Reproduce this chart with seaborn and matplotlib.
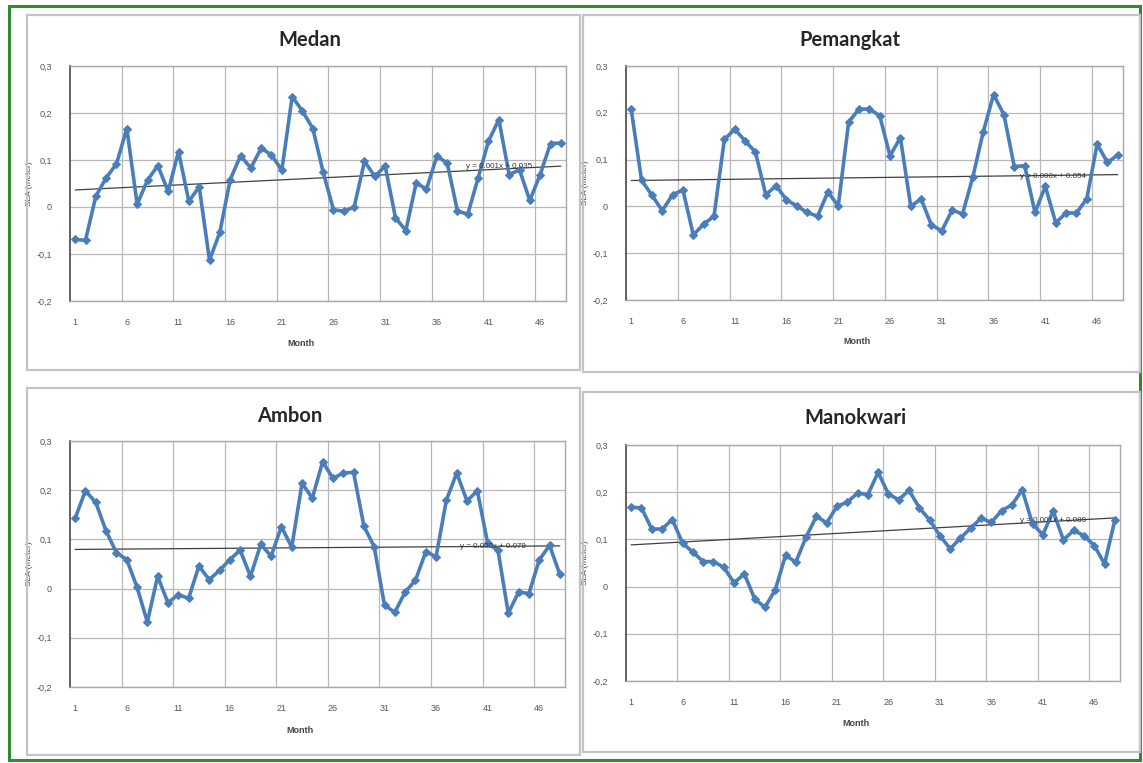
import numpy as np
import pandas as pd
import matplotlib
matplotlib.use("Agg")
import matplotlib.pyplot as plt
from matplotlib.patches import Rectangle
from matplotlib.ticker import FuncFormatter
import seaborn as sns

# data (SLA in meter, months 1..48)
months = list(range(1, 49))

medan = [-0.069, -0.071, 0.023, 0.062, 0.092, 0.167, 0.006, 0.057, 0.088, 0.033,
         0.118, 0.012, 0.043, -0.113, -0.054, 0.058, 0.109, 0.083, 0.125, 0.111,
         0.078, 0.235, 0.204, 0.167, 0.074, -0.006, -0.009, 0.000, 0.097, 0.065,
         0.087, -0.023, -0.050, 0.051, 0.038, 0.108, 0.094, -0.009, -0.015, 0.062,
         0.140, 0.186, 0.069, 0.079, 0.014, 0.069, 0.135, 0.136]

pemangkat = [0.208, 0.056, 0.024, -0.009, 0.025, 0.035, -0.061, -0.038, -0.021, 0.143,
             0.165, 0.140, 0.116, 0.025, 0.044, 0.014, 0.001, -0.013, -0.021, 0.031,
             0.001, 0.180, 0.208, 0.208, 0.194, 0.108, 0.147, 0.000, 0.016, -0.040,
             -0.052, -0.008, -0.016, 0.063, 0.159, 0.239, 0.196, 0.085, 0.087, -0.013,
             0.043, -0.035, -0.014, -0.014, 0.016, 0.133, 0.094, 0.110]

ambon = [0.143, 0.199, 0.175, 0.117, 0.073, 0.059, 0.003, -0.068, 0.025, -0.029,
         -0.012, -0.020, 0.046, 0.018, 0.037, 0.059, 0.078, 0.025, 0.090, 0.066,
         0.126, 0.084, 0.214, 0.184, 0.258, 0.224, 0.235, 0.236, 0.127, 0.085,
         -0.034, -0.048, -0.007, 0.017, 0.075, 0.065, 0.180, 0.235, 0.178, 0.199,
         0.092, 0.078, -0.050, -0.007, -0.010, 0.058, 0.088, 0.029]

manokwari = [0.168, 0.167, 0.122, 0.122, 0.142, 0.092, 0.073, 0.053, 0.053, 0.041,
             0.008, 0.027, -0.026, -0.044, -0.007, 0.066, 0.052, 0.105, 0.149, 0.135,
             0.170, 0.179, 0.198, 0.195, 0.242, 0.196, 0.184, 0.204, 0.167, 0.141,
             0.108, 0.080, 0.103, 0.124, 0.145, 0.136, 0.161, 0.173, 0.205, 0.133,
             0.110, 0.160, 0.099, 0.119, 0.108, 0.087, 0.048, 0.141]

stations = ["Medan", "Pemangkat", "Ambon", "Manokwari"]
series = [medan, pemangkat, ambon, manokwari]
trend_labels = ["y = 0.001x + 0.035", "y = 0.000x + 0.054",
                "y = 0.000x + 0.079", "y = 0.001x + 0.089"]

W, H = 1143, 763
fig = plt.figure(figsize=(W / 100, H / 100), dpi=100)
sns.set_style("white")
plt.rcParams['font.family'] = ['Liberation Sans', 'DejaVu Sans']


def box(px0, py0, px1, py1):
    # pixel box -> figure rect
    return [px0 / W, 1 - py1 / H, (px1 - px0) / W, (py1 - py0) / H]


# green outer frame
fig.patches.append(Rectangle((9 / W, 1 - 760 / H), 1131 / W, 754 / H,
                             transform=fig.transFigure, fill=False,
                             edgecolor="#2e8b2e", linewidth=2.2))

# panel frames, axes rectangles, title positions, trend-label positions
panels = [(27, 15, 580, 370), (583, 15, 1140, 372),
          (27, 388, 580, 755), (583, 392, 1140, 752)]
axes_px = [(70, 66, 566, 301), (626, 66, 1123, 300),
           (70, 441, 565, 687), (626, 445, 1120, 681)]
title_px = [(310, 40), (850, 40), (290, 416), (855, 418)]
label_xy = [(38.8, 0.082), (38.6, 0.061), (38.3, 0.082), (38.8, 0.136)]

blue = "#4a7ebb"

for i in range(4):
    px0, py0, px1, py1 = panels[i]
    fig.patches.append(Rectangle((px0 / W, 1 - py1 / H), (px1 - px0) / W, (py1 - py0) / H,
                                 transform=fig.transFigure, fill=False,
                                 edgecolor="#c4c4c4", linewidth=1.6))

    ax = fig.add_axes(box(*axes_px[i]))
    df = pd.DataFrame({"month": months, "sla": series[i]})

    sns.regplot(data=df, x="month", y="sla", scatter=False, ci=None, ax=ax,
                line_kws={"color": "#404040", "linewidth": 0.9})
    sns.lineplot(data=df, x="month", y="sla", ax=ax, color=blue, linewidth=2.6,
                 marker="D", markersize=4.5, markeredgecolor=blue)

    ax.set_xlim(0.5, 48.5)
    ax.set_ylim(-0.2, 0.3)
    ax.set_yticks([-0.2, -0.1, 0, 0.1, 0.2, 0.3])
    ax.yaxis.set_major_formatter(FuncFormatter(
        lambda v, p: "0" if abs(v) < 1e-9 else f"{v:.1f}".replace(".", ",")))
    ax.set_xticks([1, 6, 11, 16, 21, 26, 31, 36, 41, 46])
    ax.set_xticks(np.arange(5.5, 48, 5), minor=True)
    ax.tick_params(axis="both", which="both", length=0, labelsize=6.5,
                   labelcolor="#555555")
    ax.tick_params(axis="y", pad=13)
    ax.tick_params(axis="x", pad=12)
    ax.grid(True, which="minor", axis="x", color="#b8b8b8", linewidth=0.9)
    ax.grid(True, which="major", axis="y", color="#b8b8b8", linewidth=0.9)
    ax.set_axisbelow(True)
    for side in ["top", "right", "bottom"]:
        ax.spines[side].set_color("#a8a8a8")
        ax.spines[side].set_linewidth(1.0)
    ax.spines["left"].set_color("#555555")
    ax.spines["left"].set_linewidth(1.3)

    ax.set_xlabel("Month", fontsize=6.5, fontweight="bold", color="#444444")
    ax.xaxis.set_label_coords(0.465, -0.16)
    ax.set_ylabel("SLA (meter)", fontsize=6, color="#444444")
    ax.yaxis.set_label_coords(-0.075, 0.5)

    ax.text(label_xy[i][0], label_xy[i][1], trend_labels[i], fontsize=5.8,
            color="#333333")

    fig.text(title_px[i][0] / W, 1 - title_px[i][1] / H, stations[i],
             fontsize=14.5, fontweight="bold", ha="center", va="center",
             family=["Lato", "DejaVu Sans"])

fig.savefig("out.png", dpi=100)
